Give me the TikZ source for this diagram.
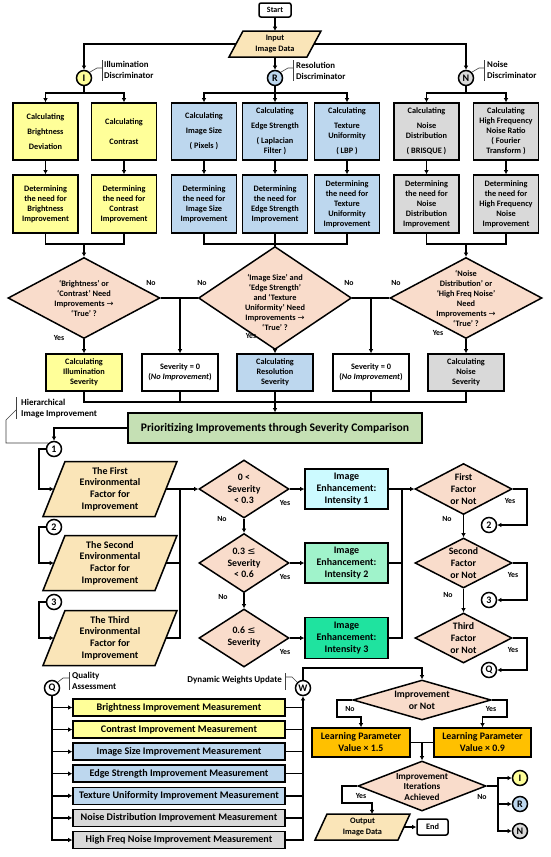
\documentclass[tikz,border=0pt]{standalone}
\usepackage{fontspec}
\setmainfont{Carlito}
\newfontfamily\dvf{DejaVu Sans}
\usetikzlibrary{shapes.geometric,arrows.meta}
\newcommand\myfs[2]{\fontsize{#1}{#2}\selectfont}
\newcommand\rar{{\dvf\mdseries →}}
\newcommand\mle{{\dvf\mdseries ≤}}
\definecolor{cyel}{HTML}{FFFF99}
\definecolor{cblu}{HTML}{BDD7EE}
\definecolor{cgry}{HTML}{D9D9D9}
\definecolor{ctan}{HTML}{FAE5B8}
\definecolor{cdia}{HTML}{F9DCCB}
\definecolor{cgrn}{HTML}{C5E0B4}
\definecolor{cinA}{HTML}{CCFAFF}
\definecolor{cinB}{HTML}{A0F3CB}
\definecolor{cinC}{HTML}{1FE39F}
\definecolor{corg}{HTML}{FFC000}
\newcommand\para[8]{%
 \path[draw, line width=1.5pt, fill=ctan] ({#2-#4/2+#6/2},{#3-#5/2}) -- ({#2+#4/2+#6/2},{#3-#5/2}) -- ({#2+#4/2-#6/2},{#3+#5/2}) -- ({#2-#4/2-#6/2},{#3+#5/2}) -- cycle;
 \node[inner sep=0pt, minimum width=#4pt, minimum height=#5pt, align=center, #8] (#1) at (#2,#3) {#7};}
\tikzset{
 bx/.style={draw, line width=1.5pt, align=center, inner sep=0pt, font={\bfseries\myfs{8.3}{10}}},
 arr/.style={line width=1.5pt, -{Latex[length=4.2pt,width=4.8pt]}},
 ln/.style={line width=1.5pt},
 dia/.style={diamond, draw, line width=1.5pt, fill=cdia, inner sep=0pt},
 dtx/.style={align=center, inner sep=0pt, font={\bfseries\myfs{8.3}{10}}},
 mtx/.style={align=center, inner sep=0pt, font={\bfseries\myfs{9.8}{11.8}}},
 circ/.style={circle, draw, line width=1.5pt, minimum size=15pt, inner sep=0pt, font={\bfseries\myfs{10}{10}}},
 lead/.style={line width=0.6pt, black!75},
 lab/.style={align=left, inner sep=0pt, font={\bfseries\myfs{8.8}{11}}},
 labb/.style={align=left, inner sep=0pt, font={\bfseries\myfs{9}{11}}},
 yn/.style={inner sep=0pt, font={\bfseries\myfs{7.8}{9}}},
 mb/.style={draw, line width=1.5pt, inner sep=0pt, minimum width=212pt, minimum height=17pt, font={\bfseries\myfs{10.1}{11}}},
}
\begin{document}
\begin{tikzpicture}[x=1pt,y=-1pt]
\useasboundingbox (0,0) rectangle (550,857);
\fill[white] (0,0) rectangle (550,857);
% ---------- top ----------
\node[bx, rounded corners=2pt, minimum width=32pt, minimum height=14pt, font={\bfseries\myfs{8}{9}}] (start) at (275,10) {Start};
\para{inp}{275}{44}{78}{26}{14}{Input\\Image Data}{font={\bfseries\myfs{8.3}{10.5}}}
\node[circ, fill=cyel] (ci) at (84,78) {I};
\node[circ, fill=cblu] (cr) at (275,78) {R};
\node[circ, fill=cgry] (cn) at (466,78) {N};
\draw[arr] (start.south) -- (inp.north);
\draw[arr] (inp.west) -| (ci.north);
\draw[arr] (inp.east) -| (cn.north);
\draw[arr] (inp.south) -- (cr.north);
\draw[lead] (ci.45) -- (97,68) -- (102,68); \draw[lead] (102,60) -- (102,81);
\node[lab, anchor=west] (lil) at (104,70) {Illumination\\Discriminator};
\draw[lead] (cr.45) -- (288,68) -- (293,68); \draw[lead] (293,60) -- (293,81);
\node[lab, anchor=west] (lre) at (296,71) {Resolution\\Discriminator};
\draw[lead] (cn.45) -- (479,68) -- (484,68); \draw[lead] (484,60) -- (484,81);
\node[lab, anchor=west] (lno) at (487,70) {Noise\\Discriminator};
% ---------- row 1 ----------
\node[bx, fill=cyel, minimum width=65pt, minimum height=57pt] (ka1) at (45.5,131.5) {Calculating\\[5pt]Brightness\\[5pt]Deviation};
\node[bx, fill=cyel, minimum width=65pt, minimum height=57pt] (ka2) at (124,131.5) {Calculating\\[10pt]Contrast};
\node[bx, fill=cblu, minimum width=65pt, minimum height=57pt] (ka3) at (204,131.5) {Calculating\\[5pt]Image Size\\[5pt]( Pixels )};
\node[bx, fill=cblu, minimum width=65pt, minimum height=57pt] (ka4) at (275,131.5) {Calculating\\[5pt]Edge Strength\\[5pt]( Laplacian\\Filter )};
\node[bx, fill=cblu, minimum width=65pt, minimum height=57pt] (ka5) at (347,131.5) {Calculating\\[5pt]Texture\\Uniformity\\[5pt]( LBP )};
\node[bx, fill=cgry, minimum width=65pt, minimum height=57pt] (ka6) at (426.5,131.5) {Calculating\\[5pt]Noise\\Distribution\\[5pt]( BRISQUE )};
\node[bx, fill=cgry, minimum width=65pt, minimum height=57pt] (ka7) at (506,131.5) {Calculating\\High Frequency\\Noise Ratio\\( Fourier\\Transform )};
% ---------- row 2 ----------
\node[bx, fill=cyel, minimum width=65pt, minimum height=58pt] (kb1) at (45.5,204) {Determining\\the need for\\Brightness\\Improvement};
\node[bx, fill=cyel, minimum width=65pt, minimum height=58pt] (kb2) at (124,204) {Determining\\the need for\\Contrast\\Improvement};
\node[bx, fill=cblu, minimum width=65pt, minimum height=58pt] (kb3) at (204,204) {Determining\\the need for\\Image Size\\Improvement};
\node[bx, fill=cblu, minimum width=65pt, minimum height=58pt] (kb4) at (275,204) {Determining\\the need for\\Edge Strength\\Improvement};
\node[bx, fill=cblu, minimum width=65pt, minimum height=58pt] (kb5) at (347,204) {Determining\\the need for\\Texture\\Uniformity\\Improvement};
\node[bx, fill=cgry, minimum width=65pt, minimum height=58pt] (kb6) at (426.5,204) {Determining\\the need for\\Noise\\Distribution\\Improvement};
\node[bx, fill=cgry, minimum width=65pt, minimum height=58pt] (kb7) at (506,204) {Determining\\the need for\\High Frequency\\Noise\\Improvement};
% branches
\coordinate (ib) at (84,93); \coordinate (rb) at (275,93); \coordinate (nb) at (466,93);
\draw[ln] (ci.south) -- (ib); \draw[ln] (cr.south) -- (rb); \draw[ln] (cn.south) -- (nb);
\draw[arr] (ib) -| (ka1.north); \draw[arr] (ib) -| (ka2.north);
\draw[arr] (rb) -| (ka3.north); \draw[arr] (rb) -- (ka4.north); \draw[arr] (rb) -| (ka5.north);
\draw[arr] (nb) -| (ka6.north); \draw[arr] (nb) -| (ka7.north);
\foreach \i in {1,...,7} {\draw[arr] (ka\i.south) -- (kb\i.north);}
% diamonds
\node[dia, minimum width=152pt, minimum height=81pt] (d1) at (84,298) {};
\node[dtx] (d1t) at (84,298) {‘Brightness’ or\\‘Contrast’ Need\\Improvements \rar\\‘True’ ?};
\node[dia, minimum width=153pt, minimum height=103pt] (d2) at (275,298) {};
\node[dtx] (d2t) at (275,302) {‘Image Size’ and\\‘Edge Strength’\\and ‘Texture\\Uniformity’ Need\\Improvements \rar\\‘True’ ?};
\node[dia, minimum width=152pt, minimum height=81pt] (d3) at (466,298) {};
\node[dtx] (d3t) at (466,298) {‘Noise\\Distribution’ or\\‘High Freq Noise’\\Need\\Improvements \rar\\‘True’ ?};
\coordinate (im) at (84,244); \coordinate (rm) at (275,244); \coordinate (nm) at (466,244);
\draw[ln] (kb1.south) |- (im); \draw[ln] (kb2.south) |- (im); \draw[arr] (im) -- (d1.north);
\draw[ln] (kb3.south) |- (rm); \draw[ln] (kb5.south) |- (rm); \draw[ln] (kb4.south) -- (rm); \draw[ln] (rm) -- (d2.north);
\draw[ln] (kb6.south) |- (nm); \draw[ln] (kb7.south) |- (nm); \draw[arr] (nm) -- (d3.north);
% row 3
\node[bx, fill=cyel, minimum width=76pt, minimum height=37pt] (sv1) at (84,372.5) {Calculating\\Illumination\\Severity};
\node[bx, fill=white, minimum width=76pt, minimum height=37pt] (z1) at (180,372.5) {Severity = 0\\(\textit{No Improvement})};
\node[bx, fill=cblu, minimum width=76pt, minimum height=37pt] (sv2) at (275,372.5) {Calculating\\Resolution\\Severity};
\node[bx, fill=white, minimum width=76pt, minimum height=37pt] (z2) at (371,372.5) {Severity = 0\\(\textit{No Improvement})};
\node[bx, fill=cgry, minimum width=76pt, minimum height=37pt] (sv3) at (466,372.5) {Calculating\\Noise\\Severity};
\draw[ln] (d1.east) -- (d2.west); \draw[ln] (d2.east) -- (d3.west);
\coordinate (j12) at (180,298); \coordinate (j23) at (371,298);
\draw[arr] (j12) -- (z1.north); \draw[arr] (j23) -- (z2.north);
\draw[arr] (d1.south) -- (sv1.north); \draw[arr] (d2.south) -- (sv2.north); \draw[arr] (d3.south) -- (sv3.north);
\node[yn] (n01) at (151,283) {No}; \node[yn] (n02) at (202,283) {No};
\node[yn] (n03) at (349,283) {No}; \node[yn] (n04) at (396,283) {No};
\node[yn] (y01) at (59,338) {Yes}; \node[yn] (y02) at (251,336) {Yes}; \node[yn] (y03) at (438,333) {Yes};
% prioritizing
\node[bx, fill=cgrn, minimum width=294pt, minimum height=30pt, font={\bfseries\myfs{11.6}{13}}] (prio) at (275,428) {Prioritizing Improvements through Severity Comparison};
\coordinate (pm) at (275,402);
\draw[ln] (sv1.south) |- (pm); \draw[ln] (z1.south) |- (pm); \draw[ln] (sv2.south) -- (pm);
\draw[ln] (z2.south) |- (pm); \draw[ln] (sv3.south) |- (pm);
\draw[arr] (pm) -- (prio.north);
\node[labb, anchor=west] (hier) at (21,408.5) {Hierarchical\\Image Improvement};
\draw[lead] (16,397) -- (16,419); \draw[lead] (16,410) -- (6,420) -- (6,443) -- (48,443);
% ---------- middle ----------
\node[circ, fill=white] (n1) at (54,449) {1};
\node[circ, fill=white] (n2) at (54,527) {2};
\node[circ, fill=white] (n3) at (54,602) {3};
\draw[arr] (prio.west) -| (n1.north);
\para{p1}{110}{489}{112}{55}{22}{The First\\Environmental\\Factor for\\Improvement}{font={\bfseries\myfs{10}{11.8}}}
\para{p2}{110}{563}{112}{55}{22}{The Second\\Environmental\\Factor for\\Improvement}{font={\bfseries\myfs{10}{11.8}}}
\para{p3}{110}{638}{112}{55}{22}{The Third\\Environmental\\Factor for\\Improvement}{font={\bfseries\myfs{10}{11.8}}}
\draw[arr] (n1.west) -- (39,449) |- (p1.west);
\draw[arr] (n2.west) -- (39,527) |- (p2.west);
\draw[arr] (n3.west) -- (39,602) |- (p3.west);
\node[dia, minimum width=90pt, minimum height=58pt] (s1) at (244,489) {};
\node[mtx] (s1t) at (244,489) {0 <\\Severity\\< 0.3};
\node[dia, minimum width=90pt, minimum height=59pt] (s2) at (244,563) {};
\node[mtx] (s2t) at (244,563) {0.3 \mle\\Severity\\< 0.6};
\node[dia, minimum width=90pt, minimum height=58pt] (s3) at (244,638) {};
\node[mtx] (s3t) at (244,637) {0.6 \mle\\Severity};
\coordinate (jl) at (180,489);
\draw[arr] (p1.east) -- (s1.west);
\draw[ln] (p2.east) -- (p2.east -| jl);
\draw[ln] (p3.east) -| (jl);
\draw[arr] (s1.south) -- (s2.north); \draw[arr] (s2.south) -- (s3.north);
\node[bx, fill=cinA, minimum width=83pt, minimum height=40pt, font={\bfseries\myfs{10}{11.8}}] (e1) at (346.5,489) {Image\\Enhancement:\\Intensity 1};
\node[bx, fill=cinB, minimum width=83pt, minimum height=40pt, font={\bfseries\myfs{10}{11.8}}] (e2) at (346.5,563) {Image\\Enhancement:\\Intensity 2};
\node[bx, fill=cinC, minimum width=83pt, minimum height=41pt, font={\bfseries\myfs{10}{11.8}}] (e3) at (346.5,638) {Image\\Enhancement:\\Intensity 3};
\draw[arr] (s1.east) -- (e1.west); \draw[arr] (s2.east) -- (e2.west); \draw[arr] (s3.east) -- (e3.west);
\node[yn] (y11) at (285,503) {Yes}; \node[yn] (y12) at (285,577) {Yes}; \node[yn] (y13) at (285,652) {Yes};
\node[yn] (n11) at (222,519) {No}; \node[yn] (n12) at (223,597) {No};
\node[dia, minimum width=97pt, minimum height=51pt] (f1) at (463.5,489) {};
\node[mtx] (f1t) at (463.5,489) {First\\Factor\\or Not};
\node[dia, minimum width=97pt, minimum height=50pt] (f2) at (463.5,563) {};
\node[mtx] (f2t) at (463.5,563) {Second\\Factor\\or Not};
\node[dia, minimum width=97pt, minimum height=50pt] (f3) at (463.5,638) {};
\node[mtx] (f3t) at (463.5,638) {Third\\Factor\\or Not};
\coordinate (jr) at (402,489);
\draw[arr] (e1.east) -- (f1.west);
\draw[ln] (e2.east) -- (e2.east -| jr);
\draw[ln] (e3.east) -| (jr);
\draw[arr] (f1.south) -- (f2.north); \draw[arr] (f2.south) -- (f3.north);
\node[circ, fill=white] (n2r) at (489,525) {2};
\node[circ, fill=white] (n3r) at (489,600) {3};
\node[circ, fill=white] (qr) at (489,670) {Q};
\draw[arr] (f1.east) -- (527,489) |- (n2r.east);
\draw[arr] (f2.east) -- (527,563) |- (n3r.east);
\draw[arr] (f3.east) -- (527,638) |- (qr.east);
\node[yn] (y21) at (510,501) {Yes}; \node[yn] (y22) at (513,575) {Yes}; \node[yn] (y23) at (513,650) {Yes};
\node[yn] (n21) at (447,519) {No}; \node[yn] (n22) at (448,595) {No};
% ---------- bottom ----------
\node[circ, fill=white] (qn) at (52,688) {Q};
\draw[lead] (qn.45) -- (63,678) -- (69,678); \draw[lead] (69,672) -- (69,690);
\node[labb, anchor=west] (qlab) at (72,680.5) {Quality\\Assessment};
\node[mb, fill=cyel] (m1) at (179,707.5) {Brightness Improvement Measurement};
\node[mb, fill=cyel] (m2) at (179,729.6) {Contrast Improvement Measurement};
\node[mb, fill=cblu] (m3) at (179,751.7) {Image Size Improvement Measurement};
\node[mb, fill=cblu] (m4) at (179,773.7) {Edge Strength Improvement Measurement};
\node[mb, fill=cblu] (m5) at (179,795.8) {Texture Uniformity Improvement Measurement};
\node[mb, fill=cgry] (m6) at (179,817.9) {Noise Distribution Improvement Measurement};
\node[mb, fill=cgry] (m7) at (179,840) {High Freq Noise Improvement Measurement};
\foreach \i in {1,...,7} {\draw[arr] (qn.south) |- (m\i.west);}
\node[circ, fill=white] (wn) at (303,688) {W};
\foreach \i in {1,...,6} {\draw[ln] (m\i.east) -- (m\i.east -| wn);}
\draw[arr] (m7.east) -| (wn.south);
\draw[lead] (285,673) -- (285,690); \draw[lead] (285,677) -- (292,677) -- (wn.135);
\node[labb, anchor=east] (dwu) at (282,680) {Dynamic Weights Update};
\node[dia, minimum width=138pt, minimum height=40pt] (imd) at (422,700) {};
\node[mtx] (imdt) at (422,700) {Improvement\\or Not};
\draw[arr] (wn.north) -- (303,668) -| (imd.north);
\node[bx, fill=corg, minimum width=98pt, minimum height=29pt, font={\bfseries\myfs{9.9}{12}}] (lp1) at (361,742.5) {Learning Parameter\\Value × 1.5};
\node[bx, fill=corg, minimum width=97pt, minimum height=29pt, font={\bfseries\myfs{9.9}{12}}] (lp2) at (482.5,742.5) {Learning Parameter\\Value × 0.9};
\draw[arr] (imd.west) -- (337,700) -- (337,717) -| (lp1.north);
\draw[arr] (imd.east) -- (507,700) -- (507,717) -| (lp2.north);
\node[yn] (n31) at (350,709) {No}; \node[yn] (y31) at (491,709) {Yes};
\node[dia, minimum width=128pt, minimum height=50pt] (itd) at (422,786) {};
\node[dtx, font={\bfseries\myfs{9.2}{10.8}}] (itdt) at (422,787) {Improvement\\Iterations\\Achieved};
\draw[ln] (lp1.east) -- (lp2.west);
\coordinate (jlp) at (422,742.5);
\draw[arr] (jlp) -- (itd.north);
\para{out}{362.5}{827}{83}{26}{12}{Output\\Image Data}{font={\bfseries\myfs{8.3}{10.5}}}
\node[bx, rounded corners=2pt, minimum width=31pt, minimum height=16pt, font={\bfseries\myfs{8.3}{9}}] (endn) at (432.5,827) {End};
\draw[arr] (itd.west) -- (342,786) -- (342,803) -- (372,803) -- (372,814);
\draw[arr] (out.east) -- (endn.west);
\node[yn] (y41) at (361,796) {Yes}; \node[yn] (n41) at (482,797) {No};
\node[circ, fill=cyel] (ei) at (520,778) {I};
\node[circ, fill=cblu] (er) at (520,804) {R};
\node[circ, fill=cgry] (en) at (520,831) {N};
\coordinate (jit) at (498,786);
\draw[ln] (itd.east) -- (jit);
\draw[arr] (jit) |- (ei.west); \draw[arr] (jit) |- (er.west); \draw[arr] (jit) |- (en.west);
\end{tikzpicture}
\end{document}
